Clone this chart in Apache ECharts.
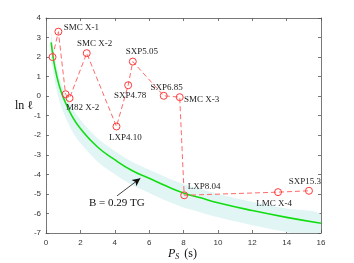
<!DOCTYPE html>
<html><head><meta charset="utf-8">
<script src="https://cdn.jsdelivr.net/npm/echarts@6/dist/echarts.min.js"></script>
<style>html,body{margin:0;padding:0;background:#fff}#c{width:354px;height:263px}</style>
</head><body><div id="c"></div>
<script>
// ---- data ----
const srcNames = ['', 'SMC X-1', '', 'M82 X-2', 'SMC X-2', 'LXP4.10', 'SXP4.78', 'SXP5.05', 'SXP6.85', 'SMC X-3', 'LXP8.04', 'LMC X-4', 'SXP15.3'];
const srcPeriod = [0.38, 0.72, 1.14, 1.37, 2.37, 4.10, 4.78, 5.05, 6.85, 7.78, 8.04, 13.5, 15.3];
const srcLnL = [2.0, 3.3, 0.1, -0.1, 2.2, -1.55, 0.56, 1.77, 0.02, -0.05, -5.07, -4.91, -4.84];

const curveP = [0.3, 0.4, 0.5, 0.75, 1, 1.5, 2, 3, 4, 5, 6, 7, 8, 9, 10, 12, 14, 16];
const curveLnL = [2.75, 2.1, 1.55, 0.6, -0.05, -1.0, -1.65, -2.6, -3.25, -3.8, -4.2, -4.6, -4.95, -5.2, -5.45, -5.85, -6.2, -6.5];
const bandUpper = [3.2, 2.55, 2.0, 1.05, 0.4, -0.55, -1.2, -2.15, -2.8, -3.35, -3.75, -4.15, -4.5, -4.75, -5.0, -5.4, -5.75, -6.05];
const bandLower = [2.0, 1.35, 0.8, -0.15, -0.8, -1.75, -2.4, -3.35, -4.0, -4.55, -4.95, -5.35, -5.7, -5.95, -6.2, -6.6, -6.95, -7.25];

const xTicks = {min: 0, max: 16, interval: 2};
const yTicks = {min: -7, max: 4, interval: 1};

const annotText = 'B = 0.29 TG';
const annotPos = [4.12, -5.46];
const arrowFrom = [4.13, -5.1];
const arrowTo = [5.49, -4.2];

// ---- label placement (style) ----
const labelOffsets = {
  'SMC X-1': [23, -4], 'M82 X-2': [13, 10], 'SMC X-2': [8, -10], 'LXP4.10': [9, 11],
  'SXP4.78': [2, 10], 'SXP5.05': [9, -10], 'SXP6.85': [3, -8.5], 'SMC X-3': [22, 2],
  'LXP8.04': [20, -9], 'LMC X-4': [-4, 11], 'SXP15.3': [-4, -9]
};

const serif = "'Liberation Serif','DejaVu Serif',serif";
const axisColor = '#555';

const srcData = srcPeriod.map((p, i) => {
  const n = srcNames[i];
  const d = {value: [p, srcLnL[i]], name: n};
  if (n) {
    d.label = {show: true, position: 'inside', offset: labelOffsets[n], formatter: n};
  }
  return d;
});

const chart = echarts.init(document.getElementById('c'), null, {renderer: 'canvas'});

const baseX = {
  type: 'value', min: xTicks.min, max: xTicks.max, interval: xTicks.interval,
  axisLine: {show: true, onZero: false, lineStyle: {color: axisColor, width: 0.8}},
  axisTick: {show: true, inside: true, length: 3, lineStyle: {color: axisColor, width: 0.8}},
  splitLine: {show: false}
};
const baseY = {
  type: 'value', min: yTicks.min, max: yTicks.max, interval: yTicks.interval,
  axisLine: {show: true, onZero: false, lineStyle: {color: axisColor, width: 0.8}},
  axisTick: {show: true, inside: true, length: 3, lineStyle: {color: axisColor, width: 0.8}},
  splitLine: {show: false}
};

chart.setOption({
  animation: false,
  backgroundColor: '#fff',
  grid: {left: 46, right: 33, top: 18, bottom: 30},
  xAxis: [
    Object.assign({}, baseX, {position: 'bottom',
      axisLabel: {color: '#333', fontSize: 8, margin: 6, fontFamily: "'Liberation Sans',Arial,sans-serif"}}),
    Object.assign({}, baseX, {position: 'top', axisLabel: {show: false}})
  ],
  yAxis: [
    Object.assign({}, baseY, {position: 'left',
      axisLabel: {color: '#333', fontSize: 8, margin: 5, fontFamily: "'Liberation Sans',Arial,sans-serif"}}),
    Object.assign({}, baseY, {position: 'right', axisLabel: {show: false}})
  ],
  graphic: [
    {type: 'text', left: 15, top: 100, style: {text: 'ln ℓ', font: "12px " + serif, fill: '#111'}},
    {type: 'text', left: 168, top: 248, style: {
      text: '{i|P}{s|S} (s)', fill: '#111',
      rich: {i: {fontFamily: serif, fontSize: 12, fontStyle: 'italic'},
             s: {fontFamily: serif, fontSize: 8, fontStyle: 'italic', verticalAlign: 'bottom', padding: [6, 2, 0, 0]}},
      font: "12px " + serif}}
  ],
  series: [
    {
      type: 'custom', clip: true, silent: true, z: 1,
      data: [0],
      renderItem: function (params, api) {
        const pts = [];
        for (let i = 0; i < curveP.length; i++) pts.push(api.coord([curveP[i], bandUpper[i]]));
        for (let i = curveP.length - 1; i >= 0; i--) pts.push(api.coord([curveP[i], bandLower[i]]));
        return {type: 'polygon', shape: {points: pts, smooth: 0.3}, style: {fill: '#e2f5f5'}};
      }
    },
    {
      type: 'line', data: curveP.map((p, i) => [p, curveLnL[i]]), smooth: true,
      showSymbol: false, z: 3, silent: true,
      lineStyle: {color: '#11dd11', width: 1.6}
    },
    {
      type: 'line', data: srcData, z: 4, silent: true,
      symbol: 'circle', symbolSize: 7, showSymbol: true,
      lineStyle: {color: '#ff6a6a', width: 1, type: [5, 3]},
      itemStyle: {color: 'rgba(255,255,255,0)', borderColor: '#ff3b3b', borderWidth: 1},
      label: {color: '#222', fontFamily: serif, fontSize: 9},
      markLine: {
        silent: true, symbol: ['none', 'arrow'], symbolSize: [6, 8],
        lineStyle: {color: '#111', width: 0.8, type: 'solid'},
        label: {show: false},
        data: [[{coord: arrowFrom}, {coord: arrowTo}]]
      },
      markPoint: {
        silent: true, symbol: 'circle', symbolSize: 0,
        label: {show: true, position: 'inside', color: '#111', fontFamily: serif, fontSize: 11, formatter: annotText},
        data: [{coord: annotPos, value: 0}]
      }
    }
  ]
});
</script></body></html>
